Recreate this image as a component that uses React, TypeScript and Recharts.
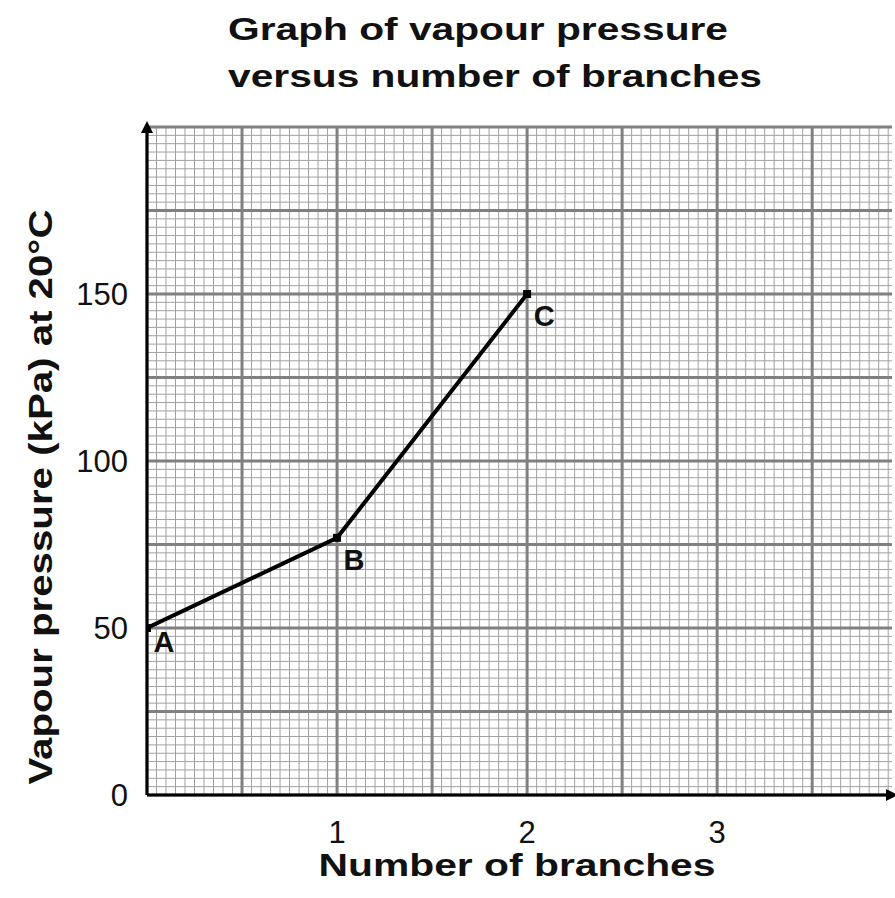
import React from 'react';
import { LineChart, Line, XAxis, YAxis, CartesianGrid } from 'recharts';

// data
const branches = [0, 1, 2];
const pressure = [50, 77, 150];
const pointNames = ['A', 'B', 'C'];
const xTicks = [1, 2, 3];
const yTicks = [0, 50, 100, 150];

const X_MAX = 3.92;
const Y_MAX = 200;

const data = branches.map((b, i) => ({ x: b, y: pressure[i], name: pointNames[i] }));

const FONT = '"Liberation Sans", Arial, sans-serif';

function steps(max: number, step: number) {
  const out: number[] = [];
  for (let v = 0; v <= max + 1e-9; v += step) out.push(+v.toFixed(4));
  return out;
}

const vGen = (step: number) => ({ offset }: any) =>
  steps(X_MAX, step).map((v) => offset.left + (v / X_MAX) * offset.width);
const hGen = (step: number) => ({ offset }: any) =>
  steps(Y_MAX, step).map((v) => offset.top + offset.height - (v / Y_MAX) * offset.height);

function PointLabel(props: any) {
  const { x, y, index } = props;
  return (
    <text x={x + 17} y={y + (index === 0 ? 24 : 32)} textAnchor="middle" fontSize={29} fontWeight="bold" fontFamily={FONT} fill="#111">
      {pointNames[index]}
    </text>
  );
}

function Dot(props: any) {
  const { cx, cy } = props;
  return <rect x={cx - 4} y={cy - 4} width={8} height={8} fill="#000" />;
}

export default function App() {
  return (
    <div style={{ position: 'absolute', left: 0, top: 0, width: 895, height: 898, background: '#fff', overflow: 'hidden', fontFamily: FONT }}>
      <LineChart
        width={895}
        height={898}
        data={data}
        margin={{ top: 127, right: 3, left: 97, bottom: 73 }}
        style={{ position: 'absolute', left: 0, top: 0 }}
      >
        <defs>
          <marker id="arrow" viewBox="0 0 10 10" refX="5" refY="5" markerWidth="4" markerHeight="4" orient="auto-start-reverse">
            <path d="M0,0 L10,5 L0,10 z" fill="#000" />
          </marker>
        </defs>
        <CartesianGrid stroke="#a0a0a0" strokeWidth={1} verticalCoordinatesGenerator={vGen(0.05)} horizontalCoordinatesGenerator={hGen(2.5)} />
        <CartesianGrid stroke="#808080" strokeWidth={3} verticalCoordinatesGenerator={vGen(0.5)} horizontalCoordinatesGenerator={hGen(25)} />
        <XAxis
          type="number"
          dataKey="x"
          domain={[0, X_MAX]}
          ticks={xTicks}
          allowDataOverflow
          height={30}
          tickLine={false}
          axisLine={{ stroke: '#000', strokeWidth: 3, markerEnd: 'url(#arrow)' }}
          tick={{ fontSize: 31, fill: '#111', fontFamily: FONT }}
          tickMargin={20}
        />
        <YAxis
          type="number"
          dataKey="y"
          domain={[0, Y_MAX]}
          ticks={yTicks}
          width={50}
          tickLine={false}
          axisLine={{ stroke: '#000', strokeWidth: 3, markerStart: 'url(#arrow)' }}
          tick={{ fontSize: 31, fill: '#111', fontFamily: FONT }}
          tickMargin={13}
        />
        <Line
          type="linear"
          dataKey="y"
          stroke="#000"
          strokeWidth={4}
          dot={<Dot />}
          activeDot={false}
          label={<PointLabel />}
          isAnimationActive={false}
        />
      </LineChart>
      <svg width={895} height={898} style={{ position: 'absolute', left: 0, top: 0, pointerEvents: 'none' }}>
        <g fontFamily={FONT} fontWeight="bold" fill="#111">
          <text x={228} y={40} fontSize={32} textLength={500} lengthAdjust="spacingAndGlyphs">Graph of vapour pressure</text>
          <text x={228} y={87} fontSize={32} textLength={534} lengthAdjust="spacingAndGlyphs">versus number of branches</text>
          <text x={517} y={876} fontSize={32} textAnchor="middle" textLength={397} lengthAdjust="spacingAndGlyphs">Number of branches</text>
          <text transform="translate(52, 497) rotate(-90)" fontSize={34} textAnchor="middle" textLength={575} lengthAdjust="spacingAndGlyphs">
            Vapour pressure (kPa) at 20°C
          </text>
        </g>
      </svg>
    </div>
  );
}
